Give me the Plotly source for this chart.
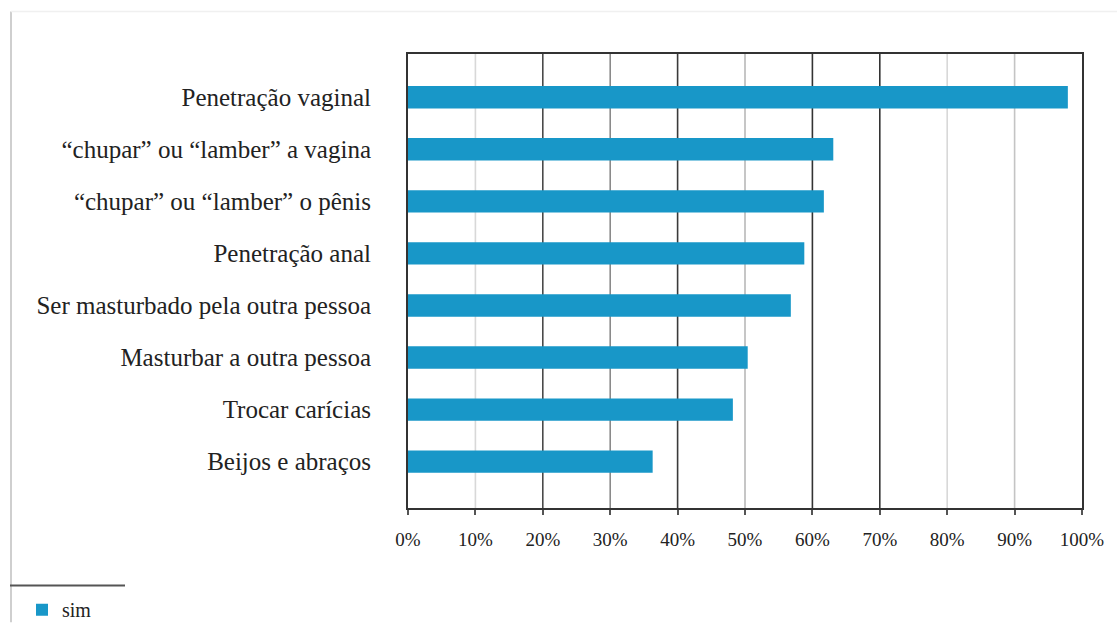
import plotly.graph_objects as go

# Survey answers ("sim") per practice, in percent
categories = [
    "Penetração vaginal",
    "“chupar” ou “lamber” a vagina",
    "“chupar” ou “lamber” o pênis",
    "Penetração anal",
    "Ser masturbado pela outra pessoa",
    "Masturbar a outra pessoa",
    "Trocar carícias",
    "Beijos e abraços",
]
sim_pct = [97.9, 63.1, 61.7, 58.8, 56.8, 50.4, 48.2, 36.3]
series_name = "sim"

x_ticks = [0, 10, 20, 30, 40, 50, 60, 70, 80, 90, 100]
x_tick_labels = ["0%", "10%", "20%", "30%", "40%", "50%", "60%", "70%", "80%", "90%", "100%"]

W, H = 1117, 641
L, R, T, B = 408, 35, 54, 118
BAR = "#1897c8"
SERIF = "Liberation Serif, Times New Roman, serif"


def px_x(p):
    return (p - L) / (W - L - R)


def px_y(p):
    return (H - B - p) / (H - T - B)


fig = go.Figure(
    go.Bar(
        x=sim_pct,
        y=categories,
        orientation="h",
        name=series_name,
        marker=dict(color=BAR, line=dict(width=0)),
        width=0.43,
        showlegend=True,
    )
)

# vertical grid lines with varying tones
grid_tones = {10: "#d8d8d8", 20: "#4a4a4a", 30: "#8a8a8a", 40: "#3a3a3a",
              50: "#b8b8b8", 60: "#333333", 70: "#333333", 80: "#d8d8d8", 90: "#c4c4c4"}
shapes = []
for v in x_ticks[1:-1]:
    shapes.append(dict(type="line", xref="x", yref="paper", x0=v, x1=v, y0=0, y1=1,
                       line=dict(color=grid_tones[v], width=1.6), layer="below"))

# outer page frame (left and top edges)
shapes.append(dict(type="line", xref="paper", yref="paper", x0=px_x(11), x1=px_x(11),
                   y0=px_y(10), y1=px_y(641), line=dict(color="#cfcfcf", width=2)))
shapes.append(dict(type="line", xref="paper", yref="paper", x0=px_x(11), x1=px_x(1117),
                   y0=px_y(10), y1=px_y(10), line=dict(color="#f0f0f0", width=1.5)))
# rule above the legend
shapes.append(dict(type="line", xref="paper", yref="paper", x0=px_x(10), x1=px_x(125),
                   y0=px_y(603), y1=px_y(603), line=dict(color="#555555", width=2)))

fig.update_layout(
    width=W,
    height=H,
    margin=dict(l=L, r=R, t=T, b=B),
    paper_bgcolor="white",
    plot_bgcolor="white",
    font=dict(family=SERIF, color="#222222"),
    shapes=shapes,
    bargap=0.5,
    legend=dict(
        x=px_x(22), y=px_y(628), xanchor="left", yanchor="middle",
        font=dict(family=SERIF, size=20, color="#222222"),
        itemwidth=30, bgcolor="rgba(0,0,0,0)",
    ),
    xaxis=dict(
        range=[0, 100],
        tickvals=x_ticks,
        ticktext=x_tick_labels,
        showgrid=False,
        zeroline=False,
        showline=True,
        linecolor="#333333",
        linewidth=2,
        mirror=True,
        ticks="outside",
        ticklen=5,
        tickcolor="#555555",
        tickwidth=1.5,
        ticklabelstandoff=8,
        tickfont=dict(family=SERIF, size=19, color="#222222"),
    ),
    yaxis=dict(
        type="category",
        categoryorder="array",
        categoryarray=categories,
        range=[7.89, -0.83],
        showgrid=False,
        zeroline=False,
        showline=True,
        linecolor="#333333",
        linewidth=2,
        mirror=True,
        ticks="",
        ticklabelstandoff=30,
        tickfont=dict(family=SERIF, size=25, color="#222222"),
    ),
)

fig.write_html("out.html")
